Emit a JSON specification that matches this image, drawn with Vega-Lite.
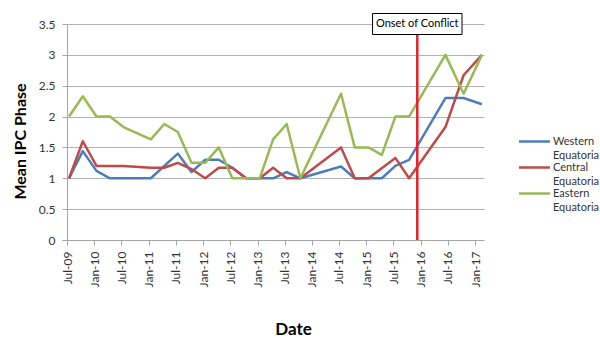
{
  "$schema": "https://vega.github.io/schema/vega-lite/v6.json",
  "width": 417,
  "height": 216,
  "autosize": {"type": "none"},
  "padding": {"left": 67, "top": 24, "right": 116, "bottom": 98},
  "config": {
    "font": "Lato",
    "view": {"stroke": null},
    "style": {"guide-label": {"lineHeight": 14}},
    "axisY": {
      "tickCount": 7,
      "format": "~g",
      "labelFontSize": 12,
      "labelColor": "#333333",
      "labelPadding": 7,
      "tickSize": 5,
      "tickColor": "#a6a6a6",
      "domainColor": "#a6a6a6",
      "grid": true,
      "gridColor": "#b3b3b3",
      "gridWidth": 1,
      "titleFontSize": 16,
      "titleFontWeight": "bold",
      "titleColor": "#000000",
      "titleAngle": 270,
      "titleX": -42,
      "titleY": 117,
      "titleAlign": "center",
      "titleBaseline": "alphabetic"
    },
    "axisX": {
      "labelExpr": "utcFormat(datum.value, '%b-%y')",
      "labelAngle": -90,
      "labelAlign": "right",
      "labelBaseline": "middle",
      "labelFontSize": 12,
      "labelColor": "#333333",
      "labelPadding": 6,
      "labelFlush": false,
      "labelOverlap": false,
      "tickSize": 5,
      "tickColor": "#a6a6a6",
      "domainColor": "#a6a6a6",
      "grid": false,
      "titleFontSize": 17,
      "titleFontWeight": "bold",
      "titleColor": "#000000",
      "titleX": 226,
      "titleY": 94,
      "titleAlign": "center",
      "titleBaseline": "alphabetic"
    }
  },
  "encoding": {
    "x": {
      "field": "date",
      "type": "temporal",
      "title": "Date",
      "scale": {
        "type": "utc",
        "domain": [
          {"year": 2009, "month": 7, "date": 1, "utc": true},
          {"year": 2017, "month": 3, "date": 1, "utc": true}
        ]
      },
      "axis": {
        "values": [
          {"year": 2009, "month": 7, "date": 1, "utc": true},
          {"year": 2010, "month": 1, "date": 1, "utc": true},
          {"year": 2010, "month": 7, "date": 1, "utc": true},
          {"year": 2011, "month": 1, "date": 1, "utc": true},
          {"year": 2011, "month": 7, "date": 1, "utc": true},
          {"year": 2012, "month": 1, "date": 1, "utc": true},
          {"year": 2012, "month": 7, "date": 1, "utc": true},
          {"year": 2013, "month": 1, "date": 1, "utc": true},
          {"year": 2013, "month": 7, "date": 1, "utc": true},
          {"year": 2014, "month": 1, "date": 1, "utc": true},
          {"year": 2014, "month": 7, "date": 1, "utc": true},
          {"year": 2015, "month": 1, "date": 1, "utc": true},
          {"year": 2015, "month": 7, "date": 1, "utc": true},
          {"year": 2016, "month": 1, "date": 1, "utc": true},
          {"year": 2016, "month": 7, "date": 1, "utc": true},
          {"year": 2017, "month": 1, "date": 1, "utc": true}
        ]
      }
    }
  },
  "layer": [
    {
      "data": {
        "values": [
          {"date": "2009-07-15", "region": "Western Equatoria", "phase": 1.0},
          {"date": "2009-10-15", "region": "Western Equatoria", "phase": 1.44},
          {"date": "2010-01-15", "region": "Western Equatoria", "phase": 1.12},
          {"date": "2010-04-15", "region": "Western Equatoria", "phase": 1.0},
          {"date": "2010-07-15", "region": "Western Equatoria", "phase": 1.0},
          {"date": "2010-10-15", "region": "Western Equatoria", "phase": 1.0},
          {"date": "2011-01-15", "region": "Western Equatoria", "phase": 1.0},
          {"date": "2011-07-15", "region": "Western Equatoria", "phase": 1.4},
          {"date": "2011-10-15", "region": "Western Equatoria", "phase": 1.1},
          {"date": "2012-01-15", "region": "Western Equatoria", "phase": 1.3},
          {"date": "2012-04-15", "region": "Western Equatoria", "phase": 1.3},
          {"date": "2012-07-15", "region": "Western Equatoria", "phase": 1.17},
          {"date": "2012-10-15", "region": "Western Equatoria", "phase": 1.0},
          {"date": "2013-01-15", "region": "Western Equatoria", "phase": 1.0},
          {"date": "2013-04-15", "region": "Western Equatoria", "phase": 1.0},
          {"date": "2013-07-15", "region": "Western Equatoria", "phase": 1.1},
          {"date": "2013-10-15", "region": "Western Equatoria", "phase": 1.0},
          {"date": "2014-07-15", "region": "Western Equatoria", "phase": 1.19},
          {"date": "2014-10-15", "region": "Western Equatoria", "phase": 1.0},
          {"date": "2015-01-15", "region": "Western Equatoria", "phase": 1.0},
          {"date": "2015-04-15", "region": "Western Equatoria", "phase": 1.0},
          {"date": "2015-07-15", "region": "Western Equatoria", "phase": 1.2},
          {"date": "2015-10-15", "region": "Western Equatoria", "phase": 1.3},
          {"date": "2016-06-15", "region": "Western Equatoria", "phase": 2.3},
          {"date": "2016-10-15", "region": "Western Equatoria", "phase": 2.3},
          {"date": "2017-02-15", "region": "Western Equatoria", "phase": 2.2},

          {"date": "2009-07-15", "region": "Central Equatoria", "phase": 1.0},
          {"date": "2009-10-15", "region": "Central Equatoria", "phase": 1.6},
          {"date": "2010-01-15", "region": "Central Equatoria", "phase": 1.2},
          {"date": "2010-04-15", "region": "Central Equatoria", "phase": 1.2},
          {"date": "2010-07-15", "region": "Central Equatoria", "phase": 1.2},
          {"date": "2011-01-15", "region": "Central Equatoria", "phase": 1.17},
          {"date": "2011-04-15", "region": "Central Equatoria", "phase": 1.17},
          {"date": "2011-07-15", "region": "Central Equatoria", "phase": 1.25},
          {"date": "2011-10-15", "region": "Central Equatoria", "phase": 1.15},
          {"date": "2012-01-15", "region": "Central Equatoria", "phase": 1.0},
          {"date": "2012-04-15", "region": "Central Equatoria", "phase": 1.17},
          {"date": "2012-07-15", "region": "Central Equatoria", "phase": 1.17},
          {"date": "2012-10-15", "region": "Central Equatoria", "phase": 1.0},
          {"date": "2013-01-15", "region": "Central Equatoria", "phase": 1.0},
          {"date": "2013-04-15", "region": "Central Equatoria", "phase": 1.17},
          {"date": "2013-07-15", "region": "Central Equatoria", "phase": 1.0},
          {"date": "2013-10-15", "region": "Central Equatoria", "phase": 1.0},
          {"date": "2014-07-15", "region": "Central Equatoria", "phase": 1.5},
          {"date": "2014-10-15", "region": "Central Equatoria", "phase": 1.0},
          {"date": "2015-01-15", "region": "Central Equatoria", "phase": 1.0},
          {"date": "2015-07-15", "region": "Central Equatoria", "phase": 1.33},
          {"date": "2015-10-15", "region": "Central Equatoria", "phase": 1.0},
          {"date": "2016-06-15", "region": "Central Equatoria", "phase": 1.83},
          {"date": "2016-10-15", "region": "Central Equatoria", "phase": 2.67},
          {"date": "2017-02-15", "region": "Central Equatoria", "phase": 3.0},

          {"date": "2009-07-15", "region": "Eastern Equatoria", "phase": 2.0},
          {"date": "2009-10-15", "region": "Eastern Equatoria", "phase": 2.33},
          {"date": "2010-01-15", "region": "Eastern Equatoria", "phase": 2.0},
          {"date": "2010-04-15", "region": "Eastern Equatoria", "phase": 2.0},
          {"date": "2010-07-15", "region": "Eastern Equatoria", "phase": 1.83},
          {"date": "2011-01-15", "region": "Eastern Equatoria", "phase": 1.63},
          {"date": "2011-04-15", "region": "Eastern Equatoria", "phase": 1.88},
          {"date": "2011-07-15", "region": "Eastern Equatoria", "phase": 1.75},
          {"date": "2011-10-15", "region": "Eastern Equatoria", "phase": 1.25},
          {"date": "2012-01-15", "region": "Eastern Equatoria", "phase": 1.25},
          {"date": "2012-04-15", "region": "Eastern Equatoria", "phase": 1.5},
          {"date": "2012-07-15", "region": "Eastern Equatoria", "phase": 1.0},
          {"date": "2012-10-15", "region": "Eastern Equatoria", "phase": 1.0},
          {"date": "2013-01-15", "region": "Eastern Equatoria", "phase": 1.0},
          {"date": "2013-04-15", "region": "Eastern Equatoria", "phase": 1.63},
          {"date": "2013-07-15", "region": "Eastern Equatoria", "phase": 1.88},
          {"date": "2013-10-15", "region": "Eastern Equatoria", "phase": 1.0},
          {"date": "2014-07-15", "region": "Eastern Equatoria", "phase": 2.37},
          {"date": "2014-10-15", "region": "Eastern Equatoria", "phase": 1.5},
          {"date": "2015-01-15", "region": "Eastern Equatoria", "phase": 1.5},
          {"date": "2015-04-15", "region": "Eastern Equatoria", "phase": 1.38},
          {"date": "2015-07-15", "region": "Eastern Equatoria", "phase": 2.0},
          {"date": "2015-10-15", "region": "Eastern Equatoria", "phase": 2.0},
          {"date": "2016-06-15", "region": "Eastern Equatoria", "phase": 3.0},
          {"date": "2016-10-15", "region": "Eastern Equatoria", "phase": 2.37},
          {"date": "2017-02-15", "region": "Eastern Equatoria", "phase": 3.0}
        ]
      },
      "mark": {"type": "line", "strokeWidth": 2.5, "strokeJoin": "round"},
      "encoding": {
        "y": {
          "field": "phase",
          "type": "quantitative",
          "title": "Mean IPC Phase",
          "scale": {"domain": [0, 3.5]}
        },
        "color": {
          "field": "region",
          "type": "nominal",
          "scale": {
            "domain": ["Western Equatoria", "Central Equatoria", "Eastern Equatoria"],
            "range": ["#4a7ebb", "#be4b48", "#98b954"]
          },
          "legend": {
            "title": null,
            "orient": "none",
            "legendX": 461,
            "legendY": 111,
            "padding": 0,
            "symbolType": "M-3,0H3",
            "symbolSize": 107,
            "symbolStrokeWidth": 2.5,
            "labelFontSize": 11,
            "labelColor": "#333333",
            "labelOffset": 12,
            "labelExpr": "split(datum.label, ' ')",
            "rowPadding": 0
          }
        }
      }
    },
    {
      "data": {"values": [{"date": "2015-12-09", "label": "Onset of Conflict"}]},
      "mark": {"type": "rule", "color": "#e8202a", "strokeWidth": 2.5},
      "encoding": {}
    },
    {
      "data": {"values": [{"date": "2015-12-09", "label": "Onset of Conflict"}]},
      "mark": {
        "type": "point",
        "shape": "M-1,-0.235H1V0.235H-1Z",
        "size": 8000,
        "filled": true,
        "fill": "#ffffff",
        "stroke": "#000000",
        "strokeWidth": 1,
        "opacity": 1
      },
      "encoding": {"y": {"datum": 3.5, "title": "Mean IPC Phase"}}
    },
    {
      "data": {"values": [{"date": "2015-12-09", "label": "Onset of Conflict"}]},
      "mark": {"type": "text", "fontSize": 11, "color": "#000000", "align": "center", "baseline": "middle"},
      "encoding": {
        "y": {"datum": 3.5, "title": "Mean IPC Phase"},
        "text": {"field": "label"}
      }
    }
  ]
}
